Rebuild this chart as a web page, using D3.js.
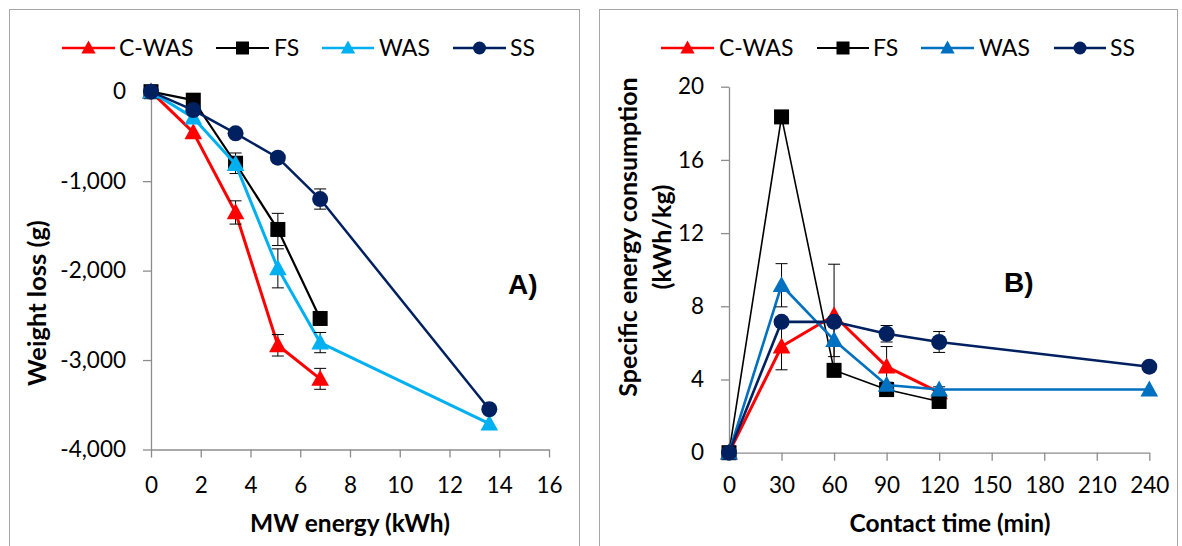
<!DOCTYPE html>
<html>
<head>
<meta charset="utf-8">
<script src="https://cdn.jsdelivr.net/npm/d3@7"></script>
<style>
  html, body { margin: 0; padding: 0; background: #fff; }
  svg { display: block; }
  text { font-family: Lato, "Open Sans", sans-serif; fill: #000; }
</style>
</head>
<body>
<svg id="chart" width="1182" height="546"></svg>
<script>
// ---------------- Data ----------------
const seriesNames = ["C-WAS", "FS", "WAS", "SS"];

// Panel A: weight loss vs MW energy
const energyA_short = [0, 1.7, 3.4, 5.1, 6.8];
const energyA_long  = [0, 1.7, 3.4, 5.1, 6.8, 13.6];
const cwasA = [0, -455, -1350, -2835, -3210];
const cwasA_err = [0, 0, 130, 120, 117];
const fsA = [0, -95, -800, -1540, -2535];
const fsA_err = [0, 0, 115, 180, 0];
const wasA = [0, -290, -810, -1975, -2805, -3710];
const wasA_err = [0, 0, 0, 218, 113, 0];
const ssA = [0, -205, -465, -738, -1200, -3550];
const ssA_err = [0, 0, 0, 0, 113, 0];
const xTicksA = [0, 2, 4, 6, 8, 10, 12, 14, 16];
const yTicksA = [0, -1000, -2000, -3000, -4000];
const yTickLabelsA = ["0", "-1,000", "-2,000", "-3,000", "-4,000"];

// Panel B: specific energy consumption vs contact time
const timeB_short = [0, 30, 60, 90, 120];
const timeB_long  = [0, 30, 60, 90, 120, 240];
const cwasB = [0, 5.8, 7.5, 4.7, 3.3];
const cwasB_err = [0, 1.27, 2.8, 1.1, 0.1];
const fsB = [0, 18.35, 4.5, 3.45, 2.8];
const fsB_err = [0, 0, 0, 0.3, 0.1];
const wasB = [0, 9.15, 6.15, 3.7, 3.45, 3.45];
const wasB_err = [0, 1.18, 0.9, 0.15, 0.15, 0];
const ssB = [0, 7.15, 7.15, 6.5, 6.05, 4.7];
const ssB_err = [0, 0, 0.1, 0.45, 0.57, 0];
const xTicksB = [0, 30, 60, 90, 120, 150, 180, 210, 240];
const yTicksB = [0, 4, 8, 12, 16, 20];

// ---------------- Styles ----------------
const colorsA = {"C-WAS": "#FF0000", "FS": "#000000", "WAS": "#00B0F0", "SS": "#002060"};
const colorsB = {"C-WAS": "#FF0000", "FS": "#000000", "WAS": "#0070C0", "SS": "#002060"};
const shapes = {"C-WAS": "triangle", "FS": "square", "WAS": "triangle", "SS": "circle"};
const axisColor = "#8C8C8C";
const tickFont = 22.5;

const svg = d3.select("#chart");

// frames
svg.append("rect").attr("x", 9.5).attr("y", 9.5).attr("width", 570).attr("height", 560)
  .attr("fill", "none").attr("stroke", "#A6A6A6").attr("stroke-width", 1);
svg.append("rect").attr("x", 599.5).attr("y", 9.5).attr("width", 578).attr("height", 560)
  .attr("fill", "none").attr("stroke", "#A6A6A6").attr("stroke-width", 1);

function marker(g, shape, cx, cy, size, color) {
  if (shape === "circle") {
    g.append("circle").attr("cx", cx).attr("cy", cy).attr("r", size / 2).attr("fill", color);
  } else if (shape === "square") {
    g.append("rect").attr("x", cx - size / 2).attr("y", cy - size / 2)
      .attr("width", size).attr("height", size).attr("fill", color);
  } else {
    const h = size * 0.95, w = size * 1.1;
    g.append("path")
      .attr("d", `M${cx},${cy - h * 0.6} L${cx + w / 2},${cy + h * 0.45} L${cx - w / 2},${cy + h * 0.45} Z`)
      .attr("fill", color);
  }
}

function styleAxis(g) {
  g.selectAll(".domain").attr("stroke", axisColor).attr("stroke-width", 1.3);
  g.selectAll(".tick line").attr("stroke", axisColor).attr("stroke-width", 1.3);
  g.selectAll(".tick text").style("font-size", tickFont + "px").attr("fill", "#000");
}

function drawSeries(g, x, y, xs, ys, errs, color, shape, lw, msize) {
  const pts = xs.map((d, i) => [d, ys[i], errs[i]]);
  g.append("path").datum(pts)
    .attr("d", d3.line().x(d => x(d[0])).y(d => y(d[1])))
    .attr("fill", "none").attr("stroke", color).attr("stroke-width", lw)
    .attr("stroke-linejoin", "round");
  pts.forEach(d => {
    if (d[2] > 0) {
      const cx = x(d[0]);
      const y1 = y(d[1] + d[2]), y2 = y(d[1] - d[2]);
      g.append("line").attr("x1", cx).attr("x2", cx).attr("y1", y1).attr("y2", y2)
        .attr("stroke", "#000").attr("stroke-width", 1);
      [y1, y2].forEach(yy => g.append("line").attr("x1", cx - 6).attr("x2", cx + 6)
        .attr("y1", yy).attr("y2", yy).attr("stroke", "#000").attr("stroke-width", 1));
    }
  });
  pts.forEach(d => marker(g, shape, x(d[0]), y(d[1]), msize, color));
}

function legend(g, items, colors, y) {
  items.forEach(it => {
    g.append("line").attr("x1", it.x1).attr("x2", it.x2).attr("y1", y).attr("y2", y)
      .attr("stroke", colors[it.name]).attr("stroke-width", it.name === "FS" ? 2 : 2.5);
    marker(g, shapes[it.name], (it.x1 + it.x2) / 2, y, 13, colors[it.name]);
    g.append("text").attr("x", it.tx).attr("y", y).attr("dy", "0.35em")
      .style("font-size", "23px").text(it.name);
  });
}

// ---------------- Panel A ----------------
{
  const x = d3.scaleLinear().domain([0, 16]).range([151, 549]);
  const y = d3.scaleLinear().domain([-4000, 0]).range([449.5, 91.7]);
  const g = svg.append("g");

  const ax = g.append("g").attr("transform", `translate(0,${y(-4000)})`)
    .call(d3.axisBottom(x).tickValues(xTicksA).tickSize(8).tickSizeOuter(0).tickPadding(20));
  styleAxis(ax);
  const ay = g.append("g").attr("transform", `translate(${x(0)},0)`)
    .call(d3.axisLeft(y).tickValues(yTicksA).tickFormat((d, i) => yTickLabelsA[i])
      .tickSize(8).tickSizeOuter(0).tickPadding(17));
  styleAxis(ay);

  drawSeries(g, x, y, energyA_short, cwasA, cwasA_err, colorsA["C-WAS"], "triangle", 3, 16);
  drawSeries(g, x, y, energyA_short, fsA, fsA_err, colorsA["FS"], "square", 2.2, 15);
  drawSeries(g, x, y, energyA_long, wasA, wasA_err, colorsA["WAS"], "triangle", 3, 16);
  drawSeries(g, x, y, energyA_long, ssA, ssA_err, colorsA["SS"], "circle", 2.5, 16);

  g.append("text").attr("transform", "translate(46,303) rotate(-90)")
    .attr("text-anchor", "middle").style("font-size", "25.5px").style("font-weight", "bold")
    .text("Weight loss (g)");
  g.append("text").attr("x", 350).attr("y", 532).attr("text-anchor", "middle")
    .style("font-size", "24.5px").style("font-weight", "bold").text("MW energy (kWh)");
  g.append("text").attr("x", 508).attr("y", 294)
    .style("font-size", "28px").style("font-weight", "bold")
    .style("font-family", "'Liberation Sans', Arial, sans-serif").text("A)");

  legend(g, [
    {name: "C-WAS", x1: 62, x2: 115, tx: 119},
    {name: "FS", x1: 216, x2: 269, tx: 274},
    {name: "WAS", x1: 322, x2: 374, tx: 379},
    {name: "SS", x1: 453, x2: 506, tx: 510}
  ], colorsA, 48);
}

// ---------------- Panel B ----------------
{
  const x = d3.scaleLinear().domain([0, 240]).range([729, 1149.3]);
  const y = d3.scaleLinear().domain([0, 20]).range([452.7, 86.7]);
  const g = svg.append("g");

  const ax = g.append("g").attr("transform", `translate(0,${y(0)})`)
    .call(d3.axisBottom(x).tickValues(xTicksB).tickSize(8).tickSizeOuter(0).tickPadding(16.5));
  styleAxis(ax);
  const ay = g.append("g").attr("transform", `translate(${x(0)},0)`)
    .call(d3.axisLeft(y).tickValues(yTicksB).tickSize(8).tickSizeOuter(0).tickPadding(17));
  styleAxis(ay);

  drawSeries(g, x, y, timeB_short, cwasB, cwasB_err, colorsB["C-WAS"], "triangle", 3, 16);
  drawSeries(g, x, y, timeB_short, fsB, fsB_err, colorsB["FS"], "square", 1.6, 15);
  drawSeries(g, x, y, timeB_long, wasB, wasB_err, colorsB["WAS"], "triangle", 2.6, 16);
  drawSeries(g, x, y, timeB_long, ssB, ssB_err, colorsB["SS"], "circle", 2.6, 16);

  const t = g.append("text").attr("transform", "translate(637,237) rotate(-90)")
    .attr("text-anchor", "middle").style("font-size", "25px").style("font-weight", "bold");
  t.append("tspan").attr("x", 0).attr("dy", 0).text("Specific energy  consumption");
  t.append("tspan").attr("x", 0).attr("dy", 34).text("(kWh/kg)");
  g.append("text").attr("x", 950).attr("y", 532).attr("text-anchor", "middle")
    .style("font-size", "24.5px").style("font-weight", "bold").text("Contact time (min)");
  g.append("text").attr("x", 1004).attr("y", 292)
    .style("font-size", "28px").style("font-weight", "bold")
    .style("font-family", "'Liberation Sans', Arial, sans-serif").text("B)");

  legend(g, [
    {name: "C-WAS", x1: 661, x2: 714, tx: 719},
    {name: "FS", x1: 817, x2: 869, tx: 873},
    {name: "WAS", x1: 921, x2: 974, tx: 979},
    {name: "SS", x1: 1054, x2: 1106, tx: 1110}
  ], colorsB, 48);
}
</script>
</body>
</html>
